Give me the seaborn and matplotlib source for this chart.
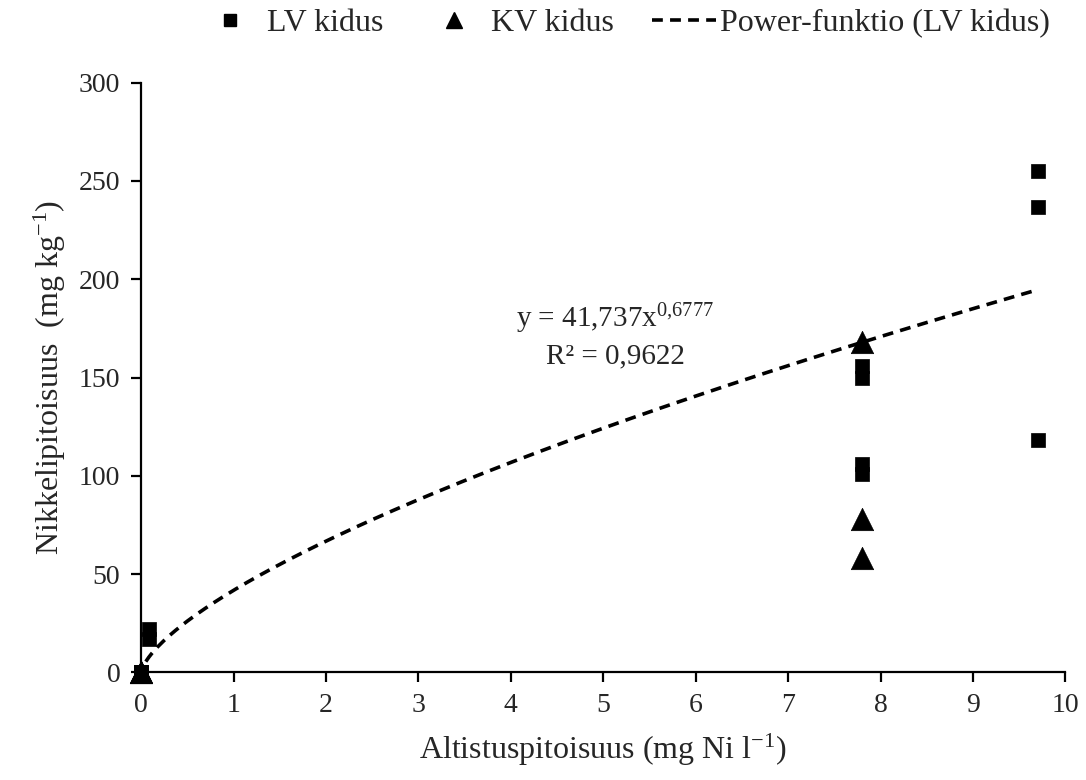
import numpy as np
import pandas as pd
import seaborn as sns
import matplotlib.pyplot as plt
from matplotlib.lines import Line2D

# LV kidus (squares)
lv_x = [0, 0, 0, 0.08, 0.08, 7.8, 7.8, 7.8, 7.8, 9.7, 9.7, 9.7]
lv_y = [0, 0, 0, 17, 22, 150, 156, 101, 106, 255, 237, 118]

# KV kidus (triangles)
kv_x = [0, 0, 0, 7.8, 7.8, 7.8]
kv_y = [0, 0, 0, 168, 78, 58]

# power trendline fitted to LV kidus, as given in the chart
fit_a = 41.737
fit_b = 0.6777
fit_x_range = [0.05, 9.7]

x_ticks = [0, 1, 2, 3, 4, 5, 6, 7, 8, 9, 10]
y_ticks = [0, 50, 100, 150, 200, 250, 300]

sns.set_style("ticks")
plt.rcParams['font.family'] = ['Liberation Serif', 'DejaVu Serif']
plt.rcParams['mathtext.fontset'] = 'custom'
plt.rcParams['mathtext.rm'] = 'Liberation Serif'
plt.rcParams['mathtext.it'] = 'Liberation Serif'

lv = pd.DataFrame({'x': lv_x, 'y': lv_y})
kv = pd.DataFrame({'x': kv_x, 'y': kv_y})
fx = np.linspace(fit_x_range[0], fit_x_range[1], 300)
fit = pd.DataFrame({'x': fx, 'y': fit_a * fx ** fit_b})

fig = plt.figure(figsize=(10.86, 7.8), dpi=100)
ax = fig.add_axes([0.130, 0.138, 0.851, 0.756])

sns.lineplot(data=fit, x='x', y='y', ax=ax, color='black', lw=2.6,
             dashes=False, linestyle=(0, (3, 2)), zorder=2)
sns.scatterplot(data=lv, x='x', y='y', ax=ax, marker='s', s=110,
                color='black', edgecolor='black', linewidth=0.5,
                zorder=3, clip_on=False)
sns.scatterplot(data=kv, x='x', y='y', ax=ax, marker='^', s=260,
                color='black', edgecolor='black', linewidth=0.5,
                zorder=3, clip_on=False)

ax.set_xlim(0, 10)
ax.set_ylim(0, 300)
ax.set_xticks(x_ticks)
ax.set_yticks(y_ticks)
ax.tick_params(labelsize=20, width=1.6, length=7, color='black')
ax.tick_params(axis='x', pad=8)
ax.tick_params(axis='y', pad=8)
for side in ['top', 'right']:
    ax.spines[side].set_visible(False)
for side in ['left', 'bottom']:
    ax.spines[side].set_linewidth(1.6)
    ax.spines[side].set_color('black')

ax.set_xlabel('Altistuspitoisuus (mg Ni l$^{\\mathrm{-1}}$)', fontsize=23, labelpad=10)
ax.set_ylabel('Nikkelipitoisuus  (mg kg$^{\\mathrm{-1}}$)', fontsize=23, labelpad=8)

ax.text(5.13, 180, 'y = 41,737x$^{\\mathrm{0{,}6777}}$', fontsize=21,
        ha='center', va='center')
ax.text(5.13, 161, 'R² = 0,9622', fontsize=21, ha='center', va='center')

handles = [
    Line2D([], [], marker='s', color='black', linestyle='none', markersize=9),
    Line2D([], [], marker='^', color='black', linestyle='none', markersize=12),
    Line2D([], [], color='black', lw=2.6, linestyle=(0, (3, 2))),
]
labels = ['LV kidus', 'KV kidus', 'Power-funktio (LV kidus)']
fig.legend(handles, labels, loc='center', bbox_to_anchor=(0.575, 0.970),
           ncol=3, frameon=False, fontsize=23, handlelength=2.0,
           handletextpad=0.15, columnspacing=1.2)

fig.savefig('out.png', dpi=100)
